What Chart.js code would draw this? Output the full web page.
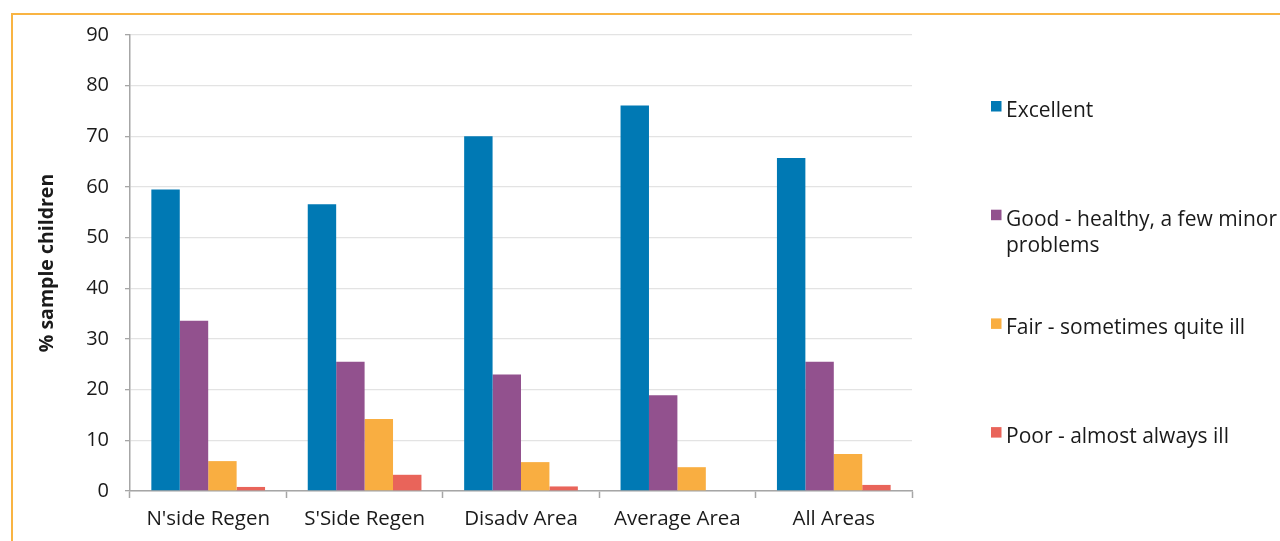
<!DOCTYPE html>
<html>
<head>
<meta charset="utf-8">
<script src="https://cdn.jsdelivr.net/npm/chart.js@4/dist/chart.umd.min.js"></script>
<style>
  html, body { margin: 0; padding: 0; background: #ffffff; }
  #wrap { position: relative; width: 1280px; height: 541px; overflow: hidden; }
  #frame {
    position: absolute; left: 11px; top: 13px; width: 1400px; height: 700px;
    border-top: 2px solid #F9B443; border-left: 2px solid #F9B443;
    pointer-events: none;
  }
  canvas { position: absolute; left: 0; top: 0; }
</style>
</head>
<body>
<div id="wrap">
  <canvas id="chart" width="1280" height="541"></canvas>
  <div id="frame"></div>
</div>
<script>
// Areas surveyed
const categories = ["N'side Regen", "S'Side Regen", "Disadv Area", "Average Area", "All Areas"];

// Health rating groups
const seriesNames = [
  "Excellent",
  "Good - healthy, a few minor problems",
  "Fair - sometimes quite ill",
  "Poor - almost always ill"
];

// % of sample children in each rating, per area
const excellent = [59.5, 56.6, 70.0, 76.1, 65.7];
const good      = [33.6, 25.5, 23.0, 18.9, 25.5];
const fair      = [5.9, 14.2, 5.7, 4.7, 7.3];
const poor      = [0.8, 3.2, 0.9, 0, 1.2];

// Y axis range and step
const yMin = 0, yMax = 90, yStep = 10;

const seriesValues = [excellent, good, fair, poor];
const seriesColors = ["#0079B4", "#92518E", "#F9AE41", "#E9645A"];

const FONT = "'Open Sans', 'Noto Sans', sans-serif";
const TEXT = "#1a1a1a";

// Right-hand legend with wrapped item labels
const sideLegend = {
  id: 'sideLegend',
  afterDraw(chart, args, opts) {
    const ctx = chart.ctx;
    ctx.save();
    ctx.font = opts.fontSize + 'px ' + FONT;
    ctx.textBaseline = 'middle';
    ctx.textAlign = 'left';
    chart.data.datasets.forEach((ds, i) => {
      const top = opts.top + i * opts.step;
      ctx.fillStyle = ds.backgroundColor;
      ctx.fillRect(opts.x, top, opts.box, opts.box);
      // wrap words to the available width
      const words = ds.label.split(' ');
      const lines = [];
      let line = '';
      words.forEach(w => {
        const test = line ? line + ' ' + w : w;
        if (ctx.measureText(test).width > opts.maxWidth && line) {
          lines.push(line);
          line = w;
        } else {
          line = test;
        }
      });
      if (line) lines.push(line);
      ctx.fillStyle = TEXT;
      lines.forEach((l, k) => {
        ctx.fillText(l, opts.textX, top + opts.textDy + k * opts.lineHeight);
      });
    });
    ctx.restore();
  }
};

new Chart(document.getElementById('chart'), {
  type: 'bar',
  data: {
    labels: categories,
    datasets: seriesNames.map((name, i) => ({
      label: name,
      data: seriesValues[i],
      backgroundColor: seriesColors[i],
      borderWidth: 0,
      categoryPercentage: 0.727,
      barPercentage: 1.0
    }))
  },
  options: {
    responsive: false,
    animation: false,
    layout: { padding: { left: 0, right: 368, top: 35, bottom: 0 } },
    plugins: {
      legend: { display: false },
      tooltip: { enabled: false },
      sideLegend: {
        x: 991, textX: 1006, top: 101, step: 108.7, box: 10.5,
        textDy: 10, lineHeight: 26, fontSize: 21, maxWidth: 276
      }
    },
    scales: {
      x: {
        grid: {
          offset: true,
          drawOnChartArea: false,
          drawTicks: true,
          tickLength: 7,
          tickColor: '#a6a6a6',
          tickWidth: 1.5
        },
        border: { color: '#a6a6a6', width: 1.5 },
        ticks: { color: TEXT, font: { family: FONT, size: 20.5 }, padding: 9 },
        afterFit(scale) { scale.height = 50; }
      },
      y: {
        min: yMin,
        max: yMax,
        ticks: {
          stepSize: yStep,
          color: TEXT,
          font: { family: FONT, size: 20 },
          padding: 16
        },
        grid: {
          color: '#e3e3e3',
          lineWidth: 1.3,
          tickLength: 5,
          tickColor: '#a6a6a6'
        },
        border: { color: '#a6a6a6', width: 1.5 },
        title: {
          display: true,
          text: '% sample children',
          color: TEXT,
          font: { family: FONT, size: 19.5, weight: 'bold' },
          padding: { top: 36, bottom: 0 }
        },
        afterFit(scale) { scale.width = 130; }
      }
    }
  },
  plugins: [sideLegend]
});
</script>
</body>
</html>
